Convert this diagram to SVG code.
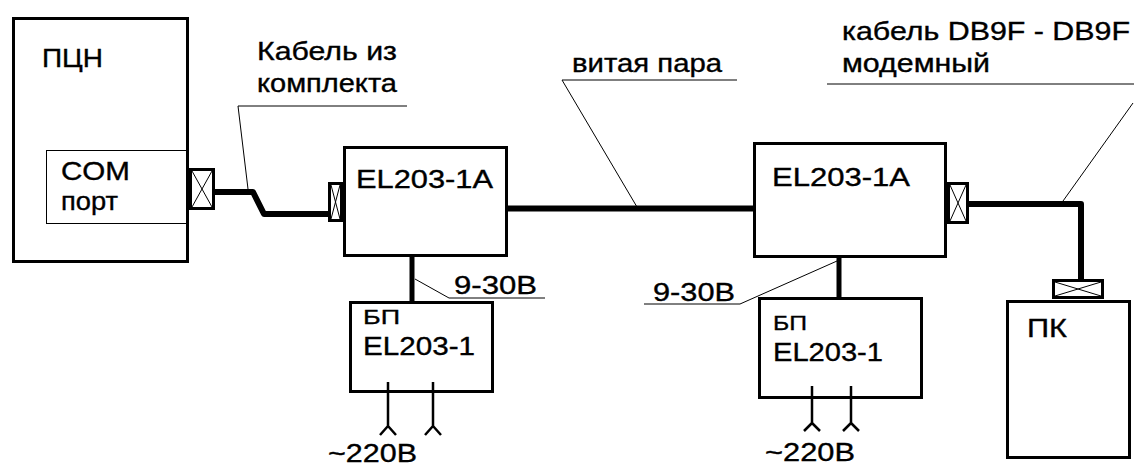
<svg xmlns="http://www.w3.org/2000/svg" width="1134" height="465" viewBox="0 0 1134 465">
<style>
.box{fill:none;stroke:#000;stroke-width:3}
.thin{fill:none;stroke:#000;stroke-width:1}
.cable{fill:none;stroke:#000;stroke-width:6;stroke-linejoin:round}
.feed{fill:none;stroke:#000;stroke-width:5}
.plug{fill:none;stroke:#000;stroke-width:2.5;stroke-linejoin:round}
.conn{fill:#fff;stroke:#000;stroke-width:3}
text{font-family:"Liberation Sans",Arial,sans-serif;font-size:25px;fill:#000;stroke:#000;stroke-width:0.35}
.sm{font-size:21px}
</style>
<rect width="1134" height="465" fill="#fff"/>
<g id="connectors">
<path class="cable" d="M215 192 H253 L264 214 H328"/>
<path class="cable" d="M508 208.5 H753"/>
<path class="cable" d="M969 204 H1081 V279"/>
<path class="feed" d="M412 257 V301"/>
<path class="feed" d="M839 258 V297"/>
<path class="thin" d="M407 106 H238 L248 189"/>
<path class="thin" d="M737 80 H562 L637 207"/>
<path class="thin" d="M1134 84 H827"/>
<path class="thin" d="M1133 103 L1063 201"/>
<path class="thin" d="M545 298 H449 L415 279"/>
<path class="thin" d="M644 304 H740 L837 261"/>
</g>
<g id="pcn">
<rect class="box" x="13.5" y="18.5" width="174" height="243"/>
<text x="42" y="67" textLength="61" lengthAdjust="spacingAndGlyphs">ПЦН</text>
</g>
<g id="com-port">
<rect class="thin" x="46.5" y="150.5" width="142" height="73"/>
<text x="61" y="180" textLength="69" lengthAdjust="spacingAndGlyphs">COM</text>
<text x="61" y="210" textLength="57" lengthAdjust="spacingAndGlyphs">порт</text>
</g>
<g id="conn-pcn">
<rect class="conn" x="190.5" y="169.5" width="23" height="39"/>
<path class="thin" d="M192 171 L212 207 M212 171 L192 207"/>
</g>
<g id="label-cable-kit">
<text x="257" y="60" textLength="140" lengthAdjust="spacingAndGlyphs">Кабель из</text>
<text x="257" y="92" textLength="140" lengthAdjust="spacingAndGlyphs">комплекта</text>
</g>
<g id="conn-el1">
<rect class="conn" x="329.5" y="183.5" width="12" height="37"/>
<path class="thin" d="M331 185 L340 219 M340 185 L331 219"/>
</g>
<g id="el1">
<rect class="box" x="344.5" y="147.5" width="162" height="108"/>
<text x="356" y="188" textLength="137" lengthAdjust="spacingAndGlyphs">EL203-1A</text>
</g>
<g id="label-tp">
<text x="572" y="72" textLength="150" lengthAdjust="spacingAndGlyphs">витая пара</text>
</g>
<g id="el2">
<rect class="box" x="754.5" y="143.5" width="191" height="113"/>
<text x="772" y="186" textLength="138" lengthAdjust="spacingAndGlyphs">EL203-1A</text>
</g>
<g id="conn-el2">
<rect class="conn" x="948.5" y="183.5" width="19" height="39"/>
<path class="thin" d="M950 185 L966 221 M966 185 L950 221"/>
</g>
<g id="label-modem">
<text x="842" y="40" textLength="288" lengthAdjust="spacingAndGlyphs">кабель DB9F - DB9F</text>
<text x="842" y="72" textLength="148" lengthAdjust="spacingAndGlyphs">модемный</text>
</g>
<g id="label-v1">
<text x="454" y="294" textLength="83" lengthAdjust="spacingAndGlyphs">9-30В</text>
</g>
<g id="label-v2">
<text x="653" y="301" textLength="82" lengthAdjust="spacingAndGlyphs">9-30В</text>
</g>
<g id="psu1">
<rect class="box" x="350.5" y="302.5" width="142" height="89"/>
<text class="sm" x="363" y="324" textLength="37" lengthAdjust="spacingAndGlyphs">БП</text>
<text x="363" y="355" textLength="112" lengthAdjust="spacingAndGlyphs">EL203-1</text>
<path class="plug" d="M388 382 V426 M380 435 L388 426 L396 435 M433 382 V426 M425 435 L433 426 L441 435"/>
<text x="328" y="462" textLength="89" lengthAdjust="spacingAndGlyphs">~220В</text>
</g>
<g id="psu2">
<rect class="box" x="759.5" y="298.5" width="162" height="99"/>
<text class="sm" x="773" y="330" textLength="34" lengthAdjust="spacingAndGlyphs">БП</text>
<text x="773" y="361" textLength="110" lengthAdjust="spacingAndGlyphs">EL203-1</text>
<path class="plug" d="M812 386 V423 M804 431 L812 423 L820 431 M851 386 V423 M843 431 L851 423 L859 431"/>
<text x="765" y="461" textLength="90" lengthAdjust="spacingAndGlyphs">~220В</text>
</g>
<g id="conn-pc">
<rect class="conn" x="1053.5" y="280.5" width="49" height="17"/>
<path class="thin" d="M1055 282 L1101 296 M1101 282 L1055 296"/>
</g>
<g id="pc">
<rect class="box" x="1007.5" y="301.5" width="122" height="156"/>
<text x="1027" y="337" textLength="40" lengthAdjust="spacingAndGlyphs">ПК</text>
</g>
</svg>
